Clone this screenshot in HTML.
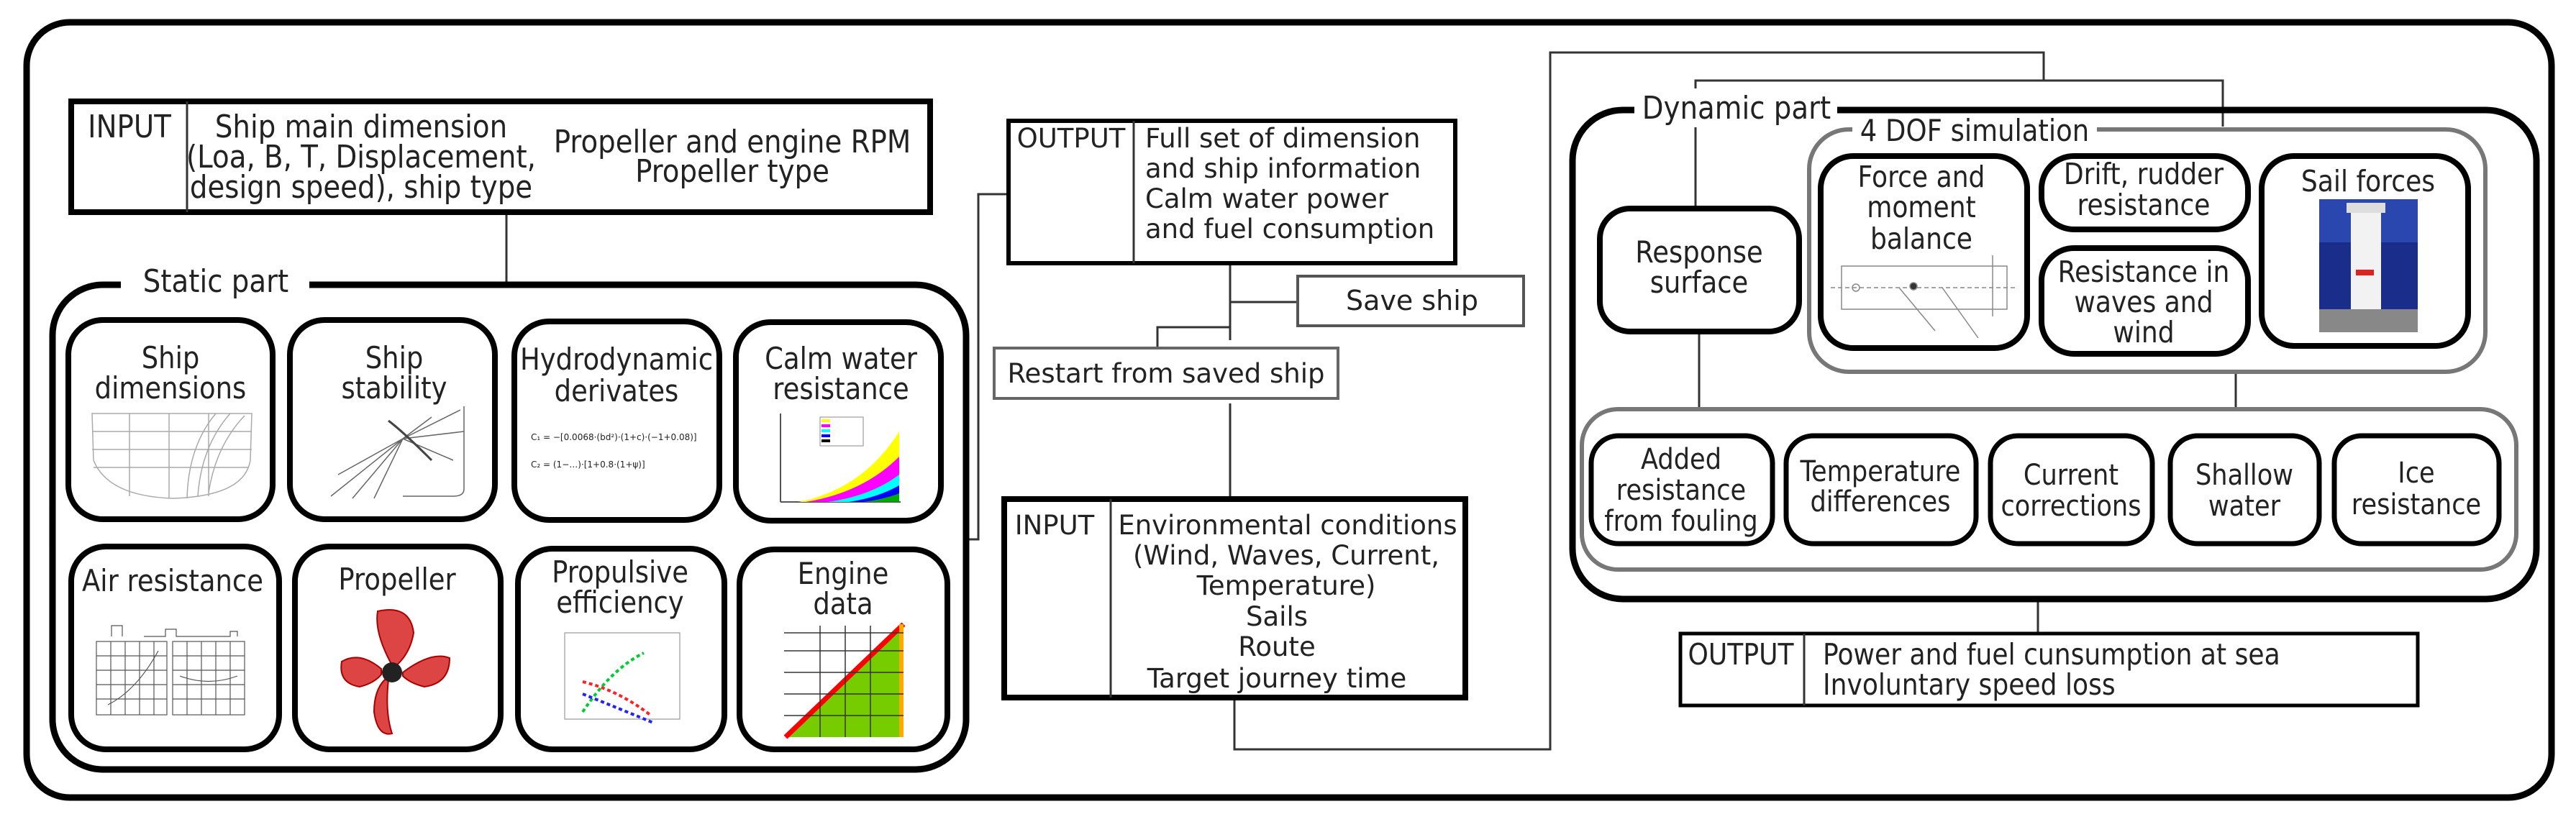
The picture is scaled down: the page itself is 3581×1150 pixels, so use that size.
<!DOCTYPE html>
<html><head><meta charset="utf-8"><style>
html,body{margin:0;padding:0;background:#fff;}
svg{display:block;}
text{font-family:"DejaVu Sans","Liberation Sans",sans-serif;fill:#222;}
.c text, text.c{transform-box:fill-box;transform-origin:center;transform:scaleX(0.88);}
text.cl{transform-box:fill-box;transform-origin:left center;transform:scaleX(0.88);}
</style></head><body>
<svg width="3581" height="1150" viewBox="0 0 3581 1150" xmlns="http://www.w3.org/2000/svg">
<rect width="3581" height="1150" fill="#fff"/>
<rect x="37" y="31" width="3510" height="1078" rx="60" fill="none" stroke="#000" stroke-width="9"/>

<g fill="none" stroke="#333" stroke-width="3">
<line x1="704" y1="297" x2="704" y2="396"/>
<polyline points="1344,750 1360,750 1360,270 1402,270"/>
<polyline points="1710,367 1710,473"/>
<line x1="1710" y1="420" x2="1804" y2="420"/>
<polyline points="1710,455 1609,455 1609,484"/>
<line x1="1710" y1="561" x2="1710" y2="693"/>
<polyline points="1716,970 1716,1042 2155,1042 2155,73 2841,73 2841,112"/>
<polyline points="3090,176 3090,112 2357,112 2357,290"/>
<line x1="2362" y1="461" x2="2362" y2="569"/>
<line x1="3108" y1="517" x2="3108" y2="569"/>
<line x1="2833" y1="833" x2="2833" y2="880"/>
</g>

<!-- INPUT 1 -->
<rect x="99" y="141" width="1194" height="154" fill="#fff" stroke="#000" stroke-width="8"/>
<line x1="260" y1="141" x2="260" y2="295" stroke="#333" stroke-width="3"/>
<g class="c" font-size="44" text-anchor="middle">
<text x="180" y="191">INPUT</text>
<text x="502" y="191">Ship main dimension</text>
<text x="502" y="233">(Loa, B, T, Displacement,</text>
<text x="502" y="275">design speed), ship type</text>
<text x="1018" y="212">Propeller and engine RPM</text>
<text x="1018" y="253">Propeller type</text>
</g>

<rect x="73" y="396" width="1270" height="674" rx="70" fill="none" stroke="#000" stroke-width="9"/>
<rect x="168" y="368" width="262" height="52" fill="#fff"/>
<text class="c" x="300" y="406" font-size="44" text-anchor="middle">Static part</text>

<g fill="#fff" stroke="#000" stroke-width="8">
<rect x="95" y="445" width="284" height="277" rx="48"/>
<rect x="403" y="445" width="285" height="277" rx="48"/>
<rect x="715" y="447" width="285" height="276" rx="48"/>
<rect x="1023" y="448" width="285" height="276" rx="48"/>
<rect x="99" y="760" width="289" height="282" rx="48"/>
<rect x="410" y="760" width="286" height="282" rx="48"/>
<rect x="720" y="763" width="287" height="279" rx="48"/>
<rect x="1028" y="764" width="289" height="278" rx="48"/>
</g>
<g class="c" font-size="42" text-anchor="middle">
<text x="237" y="512">Ship</text><text x="237" y="554">dimensions</text>
<text x="548" y="512">Ship</text><text x="548" y="554">stability</text>
<text x="857" y="514">Hydrodynamic</text><text x="857" y="558">derivates</text>
<text x="1169" y="513">Calm water</text><text x="1169" y="555">resistance</text>
<text x="240" y="822">Air resistance</text>
<text x="552" y="820">Propeller</text>
<text x="862" y="810">Propulsive</text><text x="862" y="852">efficiency</text>
<text x="1172" y="812">Engine</text><text x="1172" y="854">data</text>
</g>

<g stroke="#aaa" stroke-width="1.5" fill="none">
<path d="M128,575 L350,575 L348,640 Q340,690 240,693 Q150,690 130,640 Z"/>
<line x1="128" y1="600" x2="350" y2="600"/><line x1="128" y1="625" x2="350" y2="625"/><line x1="130" y1="650" x2="345" y2="650"/>
<line x1="180" y1="575" x2="180" y2="690"/><line x1="235" y1="575" x2="235" y2="693"/><line x1="290" y1="575" x2="290" y2="690"/>
<path d="M260,693 Q262,620 300,575 M275,690 Q280,620 320,575 M290,685 Q300,620 340,578"/>
<path d="M560,610 L460,690 M560,610 L490,693 M560,610 L520,693 M560,610 L470,660 M560,610 L640,570 M560,610 L645,600 M560,610 L630,640 M560,610 L600,580" stroke="#666"/>
<path d="M540,585 Q560,600 600,640" stroke="#444" stroke-width="3"/>
<path d="M645,565 L645,680 Q645,690 630,690 L560,690" stroke="#666"/>
</g>
<g font-size="12" fill="#888"><text x="738" y="612">C₁ = −[0.0068·(bd²)·(1+c)·(−1+0.08)]</text><text x="738" y="650">C₂ = (1−…)·[1+0.8·(1+ψ)]</text></g>
<g>
<line x1="1085" y1="575" x2="1085" y2="698" stroke="#555" stroke-width="2"/><line x1="1085" y1="698" x2="1252" y2="698" stroke="#555" stroke-width="2"/>
<path d="M1110,698 Q1200,680 1250,600 L1250,698 Z" fill="#ff0"/>
<path d="M1120,698 Q1200,685 1250,635 L1250,698 Z" fill="#f0f"/>
<path d="M1150,698 Q1210,690 1250,660 L1250,698 Z" fill="#0ff"/>
<path d="M1180,698 Q1220,692 1250,675 L1250,698 Z" fill="#00f"/>
<path d="M1200,698 Q1230,694 1250,686 L1250,698 Z" fill="#0a0"/>
<rect x="1140" y="580" width="60" height="40" fill="#fff" stroke="#888"/>
<rect x="1142" y="583" width="12" height="4" fill="#ff0"/><rect x="1142" y="590" width="12" height="4" fill="#f0f"/><rect x="1142" y="597" width="12" height="4" fill="#0ff"/><rect x="1142" y="604" width="12" height="4" fill="#00f"/><rect x="1142" y="611" width="12" height="4" fill="#000"/>
</g>
<g stroke="#555" stroke-width="1.2" fill="none">
<rect x="134" y="892" width="98" height="102"/><rect x="240" y="892" width="100" height="102"/>
<path d="M134,912H232M134,932H232M134,952H232M134,972H232M154,892V994M174,892V994M194,892V994M214,892V994"/>
<path d="M240,912H340M240,932H340M240,952H340M240,972H340M260,892V994M280,892V994M300,892V994M320,892V994"/>
<path d="M150,980 Q190,960 220,905 M250,940 Q290,955 330,940"/>
<path d="M155,885 V870 H170 V885 M200,885 H230 V875 H245 V885 H320 V878 H330 V885"/>
</g>
<g fill="#d44" stroke="#a00" stroke-width="2">
<path d="M545,925 Q520,880 525,850 Q570,840 575,880 Q570,910 548,928 Z"/>
<path d="M560,935 Q600,905 625,915 Q625,950 590,955 Q570,950 560,940 Z"/>
<path d="M540,945 Q535,990 545,1020 Q525,1025 520,990 Q520,960 535,945 Z"/>
<path d="M530,930 Q500,905 475,920 Q470,950 500,955 Q520,950 530,938 Z"/>
</g>
<circle cx="545" cy="935" r="14" fill="#222"/>
<g fill="none">
<rect x="785" y="880" width="160" height="120" stroke="#999" stroke-width="1.2"/>
<path d="M810,990 Q850,930 895,908" stroke="#0c3" stroke-width="4" stroke-dasharray="5,4"/>
<path d="M810,948 Q860,960 905,995" stroke="#f22" stroke-width="4" stroke-dasharray="5,4"/>
<path d="M810,965 Q860,985 908,1005" stroke="#22f" stroke-width="4" stroke-dasharray="5,4"/>
</g>
<g>
<path d="M1092,1025 L1256,868 L1256,1025 Z" fill="#7c0"/>
<path d="M1092,1025 L1256,868" stroke="#f00" stroke-width="7"/>
<rect x="1250" y="868" width="6" height="157" fill="#fa0"/>
<g stroke="#333" stroke-width="1.5"><path d="M1090,880H1256M1090,905H1256M1090,935H1256M1090,965H1256M1090,995H1256M1140,870V1025M1175,870V1025M1210,870V1025"/></g>
</g>

<!-- OUTPUT 1 -->
<rect x="1402" y="168" width="621" height="198" fill="#fff" stroke="#000" stroke-width="6"/>
<line x1="1576" y1="168" x2="1576" y2="366" stroke="#333" stroke-width="3"/>
<g font-size="37">
<text x="1489" y="205" text-anchor="middle">OUTPUT</text>
<text x="1592" y="205">Full set of dimension</text>
<text x="1592" y="247">and ship information</text>
<text x="1592" y="289">Calm water power</text>
<text x="1592" y="331">and fuel consumption</text>
</g>
<rect x="1804" y="384" width="314" height="69" fill="#fff" stroke="#555" stroke-width="4"/>
<text x="1963" y="431" font-size="38" text-anchor="middle">Save ship</text>
<rect x="1382" y="484" width="478" height="70" fill="#fff" stroke="#666" stroke-width="4"/>
<text x="1621" y="532" font-size="37" text-anchor="middle">Restart from saved ship</text>

<rect x="1396" y="694" width="641" height="276" fill="#fff" stroke="#000" stroke-width="8"/>
<line x1="1544" y1="694" x2="1544" y2="970" stroke="#333" stroke-width="3"/>
<g font-size="37" text-anchor="middle">
<text x="1466" y="743">INPUT</text>
<text x="1790" y="743">Environmental conditions</text>
<text x="1788" y="785">(Wind, Waves, Current,</text>
<text x="1788" y="827">Temperature)</text>
<text x="1775" y="870">Sails</text>
<text x="1775" y="912">Route</text>
<text x="1775" y="956">Target journey time</text>
</g>

<!-- Dynamic -->
<rect x="2186" y="153" width="1340" height="680" rx="70" fill="none" stroke="#000" stroke-width="9"/>
<rect x="2272" y="123" width="282" height="54" fill="#fff"/>
<text class="c" x="2414" y="165" font-size="44" text-anchor="middle">Dynamic part</text>

<rect x="2224" y="290" width="277" height="171" rx="42" fill="#fff" stroke="#000" stroke-width="8"/>
<g class="c" font-size="42" text-anchor="middle"><text x="2362" y="365">Response</text><text x="2362" y="407">surface</text></g>

<rect x="2515" y="180" width="940" height="337" rx="55" fill="none" stroke="#777" stroke-width="6"/>
<rect x="2575" y="158" width="340" height="46" fill="#fff"/>
<text class="c" x="2745" y="196" font-size="42" text-anchor="middle">4 DOF simulation</text>
<g fill="#fff" stroke="#000" stroke-width="8">
<rect x="2531" y="217" width="287" height="267" rx="45"/>
<rect x="2838" y="217" width="287" height="102" rx="45"/>
<rect x="2838" y="345" width="287" height="147" rx="45"/>
<rect x="3144" y="217" width="287" height="264" rx="45"/>
</g>
<g class="c" font-size="41" text-anchor="middle">
<text x="2671" y="260">Force and</text><text x="2671" y="302">moment</text><text x="2671" y="346">balance</text>
<text x="2980" y="256">Drift, rudder</text><text x="2980" y="299">resistance</text>
<text x="2980" y="392">Resistance in</text><text x="2980" y="434">waves and</text><text x="2980" y="476">wind</text>
<text x="3292" y="266">Sail forces</text>
</g>
<g stroke="#888" stroke-width="1.5" fill="none">
<rect x="2560" y="370" width="230" height="60"/>
<line x1="2545" y1="400" x2="2805" y2="400" stroke-dasharray="6,4"/>
<path d="M2640,400 L2690,460 M2700,400 L2750,470 M2770,355 V440"/>
<circle cx="2580" cy="400" r="5"/><circle cx="2660" cy="398" r="5" fill="#333"/>
</g>
<rect x="3224" y="277" width="137" height="185" fill="#1b2d8a"/>
<rect x="3224" y="277" width="137" height="60" fill="#2a47b0"/>
<rect x="3268" y="290" width="42" height="160" fill="#f2f2f2"/>
<rect x="3262" y="282" width="54" height="14" fill="#ddd"/>
<rect x="3275" y="375" width="25" height="8" fill="#d22"/>
<rect x="3224" y="430" width="137" height="32" fill="#888"/>

<rect x="2199" y="569" width="1299" height="223" rx="50" fill="none" stroke="#777" stroke-width="6"/>
<g fill="#fff" stroke="#000" stroke-width="7">
<rect x="2212" y="606" width="252" height="150" rx="38"/>
<rect x="2483" y="606" width="264" height="150" rx="38"/>
<rect x="2767" y="606" width="225" height="150" rx="38"/>
<rect x="3017" y="606" width="207" height="150" rx="38"/>
<rect x="3245" y="606" width="229" height="150" rx="38"/>
</g>
<g class="c" font-size="40" text-anchor="middle">
<text x="2337" y="652">Added</text><text x="2337" y="695">resistance</text><text x="2337" y="738">from fouling</text>
<text x="2614" y="669">Temperature</text><text x="2614" y="711">differences</text>
<text x="2879" y="674">Current</text><text x="2879" y="717">corrections</text>
<text x="3120" y="674">Shallow</text><text x="3120" y="717">water</text>
<text x="3359" y="671">Ice</text><text x="3359" y="715">resistance</text>
</g>

<rect x="2336" y="881" width="1025" height="100" fill="#fff" stroke="#000" stroke-width="5"/>
<line x1="2508" y1="881" x2="2508" y2="981" stroke="#333" stroke-width="3"/>
<text class="c" x="2420" y="924" font-size="41" text-anchor="middle">OUTPUT</text>
<text class="cl" x="2534" y="924" font-size="41">Power and fuel cunsumption at sea</text>
<text class="cl" x="2534" y="966" font-size="41">Involuntary speed loss</text>
</svg>
</body></html>
